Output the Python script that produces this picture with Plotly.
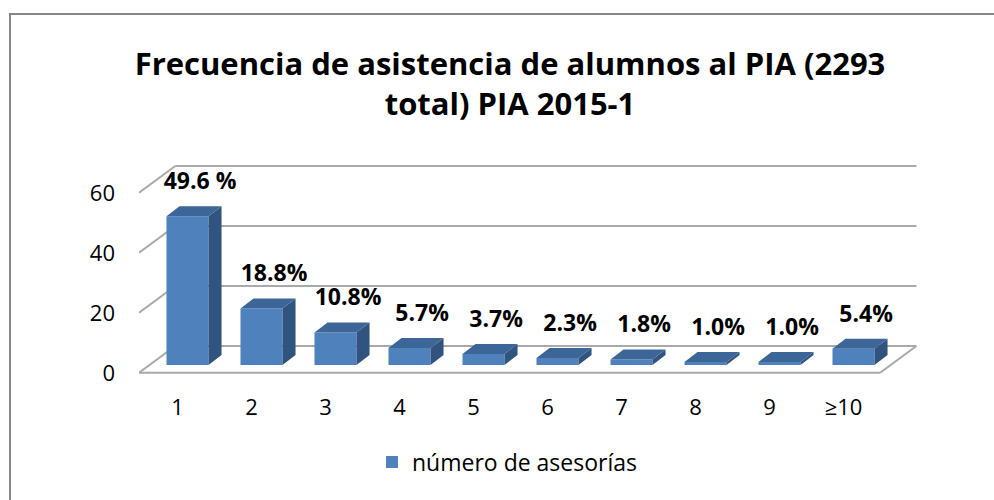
import plotly.graph_objects as go

# ---------------- data ----------------
categories = ["1", "2", "3", "4", "5", "6", "7", "8", "9", "≥10"]
values = [49.6, 18.8, 10.8, 5.7, 3.7, 2.3, 1.8, 1.0, 1.0, 5.4]
value_labels = ["49.6 %", "18.8%", "10.8%", "5.7%", "3.7%", "2.3%", "1.8%", "1.0%", "1.0%", "5.4%"]
y_ticks = [0, 20, 40, 60]
series_name = "número de asesorías"
title_text = "Frecuencia de asistencia de alumnos al PIA (2293<br>total) PIA 2015-1"

# ---------------- layout constants ----------------
W, H = 994, 500
ML, MR, MT, MB = 139, 60, 140, 120
PW, PH = W - ML - MR, H - MT - MB
X_RANGE = [-0.6554, 10.0878]
Y_RANGE = [-5, 75]

FRONT_Y = -2.6      # front edge of floor (value units)
BACK_Y = 6.33       # back wall base
FLOOR_X0 = -0.655   # front-left corner
FLOOR_X1 = 9.36     # front-right corner
DEPTH_DX = 0.49     # floor depth in x units

BAR_W = 0.568
BAR_DX = 0.176
BAR_DY = 3.33
LABEL_DX = 0.17
LABEL_DY = 11.0
XTICK_SHIFT = -0.135

FRONT = "#4F81BD"
TOP = "#3C6698"
SIDE = "#31537F"
GRID = "#A9A9A9"
FONT = "Open Sans"

idx = list(range(len(categories)))

fig = go.Figure()

# front faces
fig.add_trace(go.Bar(
    x=idx, y=values, width=BAR_W, name=series_name,
    marker=dict(color=FRONT, line=dict(width=0)),
    hoverinfo="skip", showlegend=True,
))

# side faces and top faces (3-D look)
hw = BAR_W / 2
sx, sy, tx, ty = [], [], [], []
for i, v in zip(idx, values):
    sx += [i + hw, i + hw + BAR_DX, i + hw + BAR_DX, i + hw, i + hw, None]
    sy += [0, BAR_DY, v + BAR_DY, v, 0, None]
    tx += [i - hw, i + hw, i + hw + BAR_DX, i - hw + BAR_DX, i - hw, None]
    ty += [v, v, v + BAR_DY, v + BAR_DY, v, None]
fig.add_trace(go.Scatter(x=sx, y=sy, mode="lines", fill="toself", fillcolor=SIDE,
                         line=dict(width=0, color=SIDE), hoverinfo="skip", showlegend=False))
fig.add_trace(go.Scatter(x=tx, y=ty, mode="lines", fill="toself", fillcolor=TOP,
                         line=dict(width=0, color=TOP), hoverinfo="skip", showlegend=False))

# value labels
fig.add_trace(go.Scatter(
    x=[i + LABEL_DX for i in idx], y=[v + LABEL_DY for v in values],
    mode="text", text=value_labels, textposition="middle center",
    textfont=dict(family=FONT, size=23, color="#000000", weight="bold"),
    hoverinfo="skip", showlegend=False, cliponaxis=False,
))

# walls / floor
shapes = []
back_x0 = FLOOR_X0 + DEPTH_DX
back_x1 = FLOOR_X1 + DEPTH_DX
for t in y_ticks:
    shapes.append(dict(type="line", xref="x", yref="y", layer="below",
                       x0=back_x0, y0=t + BACK_Y, x1=back_x1, y1=t + BACK_Y,
                       line=dict(color=GRID, width=2)))
    shapes.append(dict(type="line", xref="x", yref="y", layer="below",
                       x0=FLOOR_X0, y0=t + FRONT_Y, x1=back_x0, y1=t + BACK_Y,
                       line=dict(color=GRID, width=2)))
shapes.append(dict(type="line", xref="x", yref="y", layer="below",
                   x0=FLOOR_X0, y0=FRONT_Y, x1=FLOOR_X1, y1=FRONT_Y,
                   line=dict(color=GRID, width=2)))
shapes.append(dict(type="line", xref="x", yref="y", layer="below",
                   x0=FLOOR_X1, y0=FRONT_Y, x1=back_x1, y1=BACK_Y,
                   line=dict(color=GRID, width=2)))


def px_x(p):
    return (p - ML) / PW


def px_y(p):
    return (H - MB - p) / PH


# chart border
shapes.append(dict(type="rect", xref="paper", yref="paper",
                   x0=px_x(10), y0=px_y(520), x1=px_x(1010), y1=px_y(14),
                   line=dict(color="#878787", width=2), fillcolor="rgba(0,0,0,0)"))

fig.update_layout(
    width=W, height=H,
    margin=dict(l=ML, r=MR, t=MT, b=MB, pad=0),
    paper_bgcolor="white", plot_bgcolor="rgba(0,0,0,0)",
    shapes=shapes,
    title=dict(text=title_text, x=510 / W, xanchor="center", xref="container",
               y=1 - 75 / H, yanchor="middle", yref="container",
               font=dict(family=FONT, size=31, color="#000000", weight="bold")),
    xaxis=dict(range=X_RANGE, tickmode="array",
               tickvals=[i + XTICK_SHIFT for i in idx], ticktext=categories,
               showgrid=False, zeroline=False, showline=False, ticks="",
               ticklabelstandoff=12,
               tickfont=dict(family=FONT, size=22, color="#000000"), fixedrange=True),
    yaxis=dict(range=Y_RANGE, tickmode="array",
               tickvals=[t + FRONT_Y for t in y_ticks], ticktext=[str(t) for t in y_ticks],
               showgrid=False, zeroline=False, showline=False, ticks="",
               ticklabelstandoff=23,
               tickfont=dict(family=FONT, size=22, color="#000000"), fixedrange=True),
    legend=dict(orientation="h", x=px_x(507), xanchor="center", y=px_y(462), yanchor="middle",
                font=dict(family=FONT, size=23, color="#000000"), bgcolor="rgba(0,0,0,0)"),
    showlegend=True,
)

fig.write_html("out.html", config={"displayModeBar": False},
               post_script="document.body.style.margin='0';")
